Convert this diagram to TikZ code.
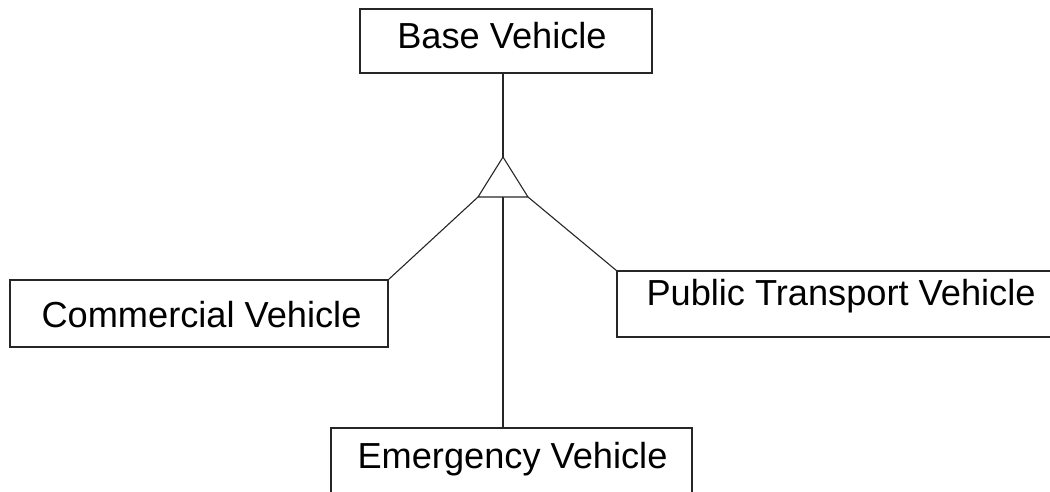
\documentclass[tikz,border=0pt]{standalone}
\usepackage{fontspec}
\setmainfont{Liberation Sans}
\begin{document}
\begin{tikzpicture}[x=1pt,y=-1pt,
  ln/.style={line width=1.1pt,draw=black!85},
  box/.style={ln,rectangle,inner sep=0pt,outer sep=0pt,anchor=north west},
  lbl/.style={inner sep=0pt,anchor=base,font=\fontsize{36.2}{40}\selectfont}]
\useasboundingbox (0,0) rectangle (1050,491);
\clip (0,0) rectangle (1050,491);
% boxes
\node[box,minimum width=292pt,minimum height=64pt] (base) at (360,9) {};
\node[box,minimum width=378pt,minimum height=67pt] (comm) at (10,280) {};
\node[box,minimum width=450pt,minimum height=66pt] (pub) at (617,271) {};
\node[box,minimum width=361pt,minimum height=70pt] (emer) at (331,428) {};
% labels
\node[lbl] (tbase) at (502,48) {Base Vehicle};
\node[lbl] (tcomm) at (201.5,327) {Commercial Vehicle};
\node[lbl] (tpub) at (841,305) {Public Transport Vehicle};
\node[lbl] (temer) at (512.5,468) {Emergency Vehicle};
% triangle
\coordinate (apex) at (503,157);
\coordinate (bl) at (478,197);
\coordinate (br) at (528,197);
\coordinate (bm) at (503,197);
\draw[ln,line join=miter] (apex) -- (bl) -- (br) -- cycle;
% connectors
\draw[ln] (base.south -| apex) -- (apex);
\draw[ln] (bl) -- (comm.north east);
\draw[ln] (br) -- (pub.north west);
\draw[ln] (bm) -- (bm |- emer.north);
\end{tikzpicture}
\end{document}
